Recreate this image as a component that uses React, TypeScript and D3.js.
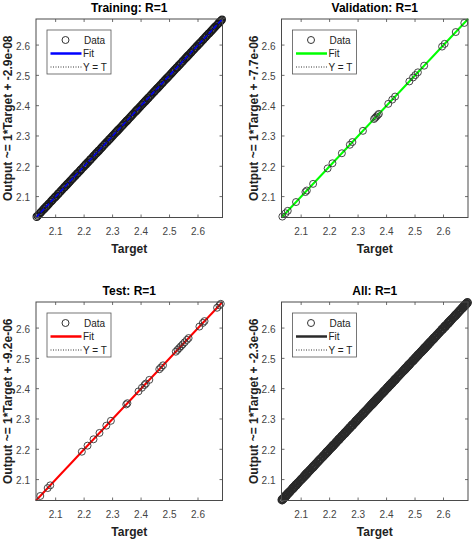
import React from 'react';
import * as d3 from 'd3';

const trainTargets = [
  2.033, 2.037, 2.041, 2.046, 2.049, 2.054, 2.058, 2.061, 2.066, 2.07, 2.074, 2.077, 2.083, 2.087, 2.09,
  2.095, 2.099, 2.103, 2.108, 2.111, 2.116, 2.12, 2.124, 2.129, 2.132, 2.137, 2.141, 2.145, 2.149, 2.153,
  2.158, 2.162, 2.166, 2.17, 2.175, 2.178, 2.183, 2.187, 2.19, 2.196, 2.2, 2.204, 2.207, 2.212, 2.216,
  2.221, 2.224, 2.229, 2.233, 2.236, 2.241, 2.245, 2.25, 2.253, 2.258, 2.262, 2.265, 2.27, 2.274, 2.279,
  2.282, 2.287, 2.291, 2.295, 2.299, 2.303, 2.308, 2.312, 2.316, 2.32, 2.324, 2.328, 2.333, 2.337, 2.341,
  2.345, 2.349, 2.352, 2.356, 2.361, 2.365, 2.369, 2.373, 2.378, 2.382, 2.386, 2.39, 2.394, 2.398, 2.403,
  2.407, 2.411, 2.415, 2.419, 2.424, 2.427, 2.432, 2.436, 2.44, 2.444, 2.448, 2.453, 2.457, 2.461, 2.465,
  2.469, 2.474, 2.477, 2.482, 2.486, 2.49, 2.494, 2.498, 2.503, 2.507, 2.511, 2.515, 2.519, 2.524, 2.527,
  2.532, 2.536, 2.54, 2.545, 2.548, 2.553, 2.557, 2.561, 2.565, 2.569, 2.574, 2.577, 2.582, 2.586, 2.59,
  2.595, 2.598, 2.603, 2.607, 2.611, 2.616, 2.619, 2.624, 2.628, 2.632, 2.637, 2.64, 2.645, 2.649, 2.653,
  2.657, 2.661, 2.666, 2.67, 2.674, 2.678, 2.681, 2.684,
];

const valTargets = [
  2.034, 2.045, 2.053, 2.082, 2.115, 2.12, 2.142, 2.193, 2.21, 2.243, 2.271, 2.28, 2.317, 2.356, 2.36,
  2.364, 2.369, 2.373, 2.406, 2.42, 2.43, 2.48, 2.493, 2.501, 2.51, 2.532, 2.595, 2.604, 2.643, 2.673,
];

const testTargets = [
  2.046, 2.072, 2.081, 2.192, 2.212, 2.233, 2.254, 2.278, 2.294, 2.348, 2.352, 2.391, 2.403, 2.412, 2.417,
  2.429, 2.464, 2.47, 2.477, 2.522, 2.528, 2.534, 2.54, 2.546, 2.553, 2.561, 2.567, 2.605, 2.617, 2.623,
  2.667, 2.675, 2.68,
];

const allTargets = [...trainTargets, ...valTargets, ...testTargets];

const panelTitles = ['Training: R=1', 'Validation: R=1', 'Test: R=1', 'All: R=1'];
const fitOffsets = ['-2.9e-08', '-7.7e-06', '-9.2e-06', '-2.3e-06'];
const fitOffsetValues = [-2.9e-8, -7.7e-6, -9.2e-6, -2.3e-6];
const fitColors = ['#0000ff', '#00ff00', '#ff0000', '#2a2a2a'];
const datasets = [trainTargets, valTargets, testTargets, allTargets];
const tickValues = [2.1, 2.2, 2.3, 2.4, 2.5, 2.6];
const legendLabels = ['Data', 'Fit', 'Y = T'];
const axisDomain = [2.031, 2.686];

// layout
const PANEL_W = 186.5;
const PANEL_H = 198.5;
const panelOrigins = [
  [36, 19],
  [281.5, 19],
  [36, 302],
  [281.5, 302],
];
const FONT = '"Liberation Sans", Arial, Helvetica, sans-serif';

function Panel({ idx }: { idx: number }) {
  const [left, top] = panelOrigins[idx];
  const xs = d3.scaleLinear().domain(axisDomain).range([0, PANEL_W]);
  const ys = d3.scaleLinear().domain(axisDomain).range([PANEL_H, 0]);
  const fmt = d3.format('.1f');
  const data = datasets[idx];
  const off = fitOffsetValues[idx];
  const line = d3
    .line<number>()
    .x((d) => xs(d))
    .y((d) => ys(d * 1 + off));
  const idLine = d3
    .line<number>()
    .x((d) => xs(d))
    .y((d) => ys(d));
  const ends = [axisDomain[0], axisDomain[1]];
  const isAll = idx === 3;
  const isTrain = idx === 0;
  const tickLen = 3;
  const axisColor = '#4a4a4a';
  const lgX = 11;
  const lgY = 11;
  const lgW = 64;
  const lgH = 44;
  const rowY = [10, 23.5, 37];
  return (
    <g transform={`translate(${left},${top})`}>
      <rect width={PANEL_W} height={PANEL_H} fill="#fff" />
      {tickValues.map((t) => (
        <g key={'tx' + t}>
          <line x1={xs(t)} x2={xs(t)} y1={PANEL_H} y2={PANEL_H - tickLen} stroke={axisColor} strokeWidth={0.8} />
          <line x1={xs(t)} x2={xs(t)} y1={0} y2={tickLen} stroke={axisColor} strokeWidth={0.8} />
          <line y1={ys(t)} y2={ys(t)} x1={0} x2={tickLen} stroke={axisColor} strokeWidth={0.8} />
          <line y1={ys(t)} y2={ys(t)} x1={PANEL_W} x2={PANEL_W - tickLen} stroke={axisColor} strokeWidth={0.8} />
          <text x={xs(t)} y={PANEL_H + 17.5} textAnchor="middle" fontSize={10} fill="#444" fontFamily={FONT}>
            {fmt(t)}
          </text>
          <text x={-6} y={ys(t) + 4.5} textAnchor="end" fontSize={10} fill="#444" fontFamily={FONT}>
            {fmt(t)}
          </text>
        </g>
      ))}
      <path d={idLine(ends) || ''} stroke="#000" strokeWidth={1} strokeDasharray="1,1.5" fill="none" />
      <path d={line(ends) || ''} stroke={fitColors[idx]} strokeWidth={2} fill="none" />
      {data.map((d, i) => (
        <circle
          key={i}
          cx={xs(d)}
          cy={ys(d * 1 + off)}
          r={isAll ? 3.8 : 3.5}
          fill="none"
          stroke={isAll ? '#2a2a2a' : isTrain ? '#1a1a1a' : '#333'}
          strokeWidth={isAll ? 1.5 : isTrain ? 1.1 : 0.9}
        />
      ))}
      {isTrain && (
        <path d={line(ends) || ''} stroke={fitColors[idx]} strokeWidth={1.6} strokeDasharray="5,2" fill="none" opacity={0.85} />
      )}
      <rect width={PANEL_W} height={PANEL_H} fill="none" stroke={axisColor} strokeWidth={1} />
      <g transform={`translate(${lgX},${lgY})`}>
        <rect width={lgW} height={lgH} fill="#fff" stroke="#555" strokeWidth={0.8} />
        <circle cx={18.5} cy={rowY[0]} r={3.5} fill="none" stroke="#333" strokeWidth={1} />
        <line x1={3.5} x2={34.5} y1={rowY[1]} y2={rowY[1]} stroke={fitColors[idx]} strokeWidth={2.5} />
        <line x1={3.5} x2={34.5} y1={rowY[2]} y2={rowY[2]} stroke="#000" strokeWidth={0.8} strokeDasharray="1,1.5" />
        {legendLabels.map((lab, i) => (
          <text key={lab} x={i === 0 ? 37 : 36} y={rowY[i] + 3.6} fontSize={10} fill="#222" fontFamily={FONT}>
            {lab}
          </text>
        ))}
      </g>
      <text x={PANEL_W / 2} y={-7} textAnchor="middle" fontSize={12} fontWeight="bold" fill="#000" fontFamily={FONT}>
        {panelTitles[idx]}
      </text>
      <text x={PANEL_W / 2} y={PANEL_H + 35} textAnchor="middle" fontSize={12} fontWeight="bold" fill="#222" fontFamily={FONT}>
        Target
      </text>
      <text
        transform={`translate(-24,${PANEL_H / 2}) rotate(-90)`}
        textAnchor="middle"
        fontSize={12}
        fontWeight="bold"
        fill="#222"
        fontFamily={FONT}
      >
        {`Output ~= 1*Target + ${fitOffsets[idx]}`}
      </text>
    </g>
  );
}

export default function App() {
  return (
    <svg
      width={475}
      height={542}
      style={{ position: 'absolute', left: 0, top: 0, background: '#fff' }}
    >
      <rect width={475} height={542} fill="#fff" />
      {[0, 1, 2, 3].map((i) => (
        <Panel key={i} idx={i} />
      ))}
    </svg>
  );
}
